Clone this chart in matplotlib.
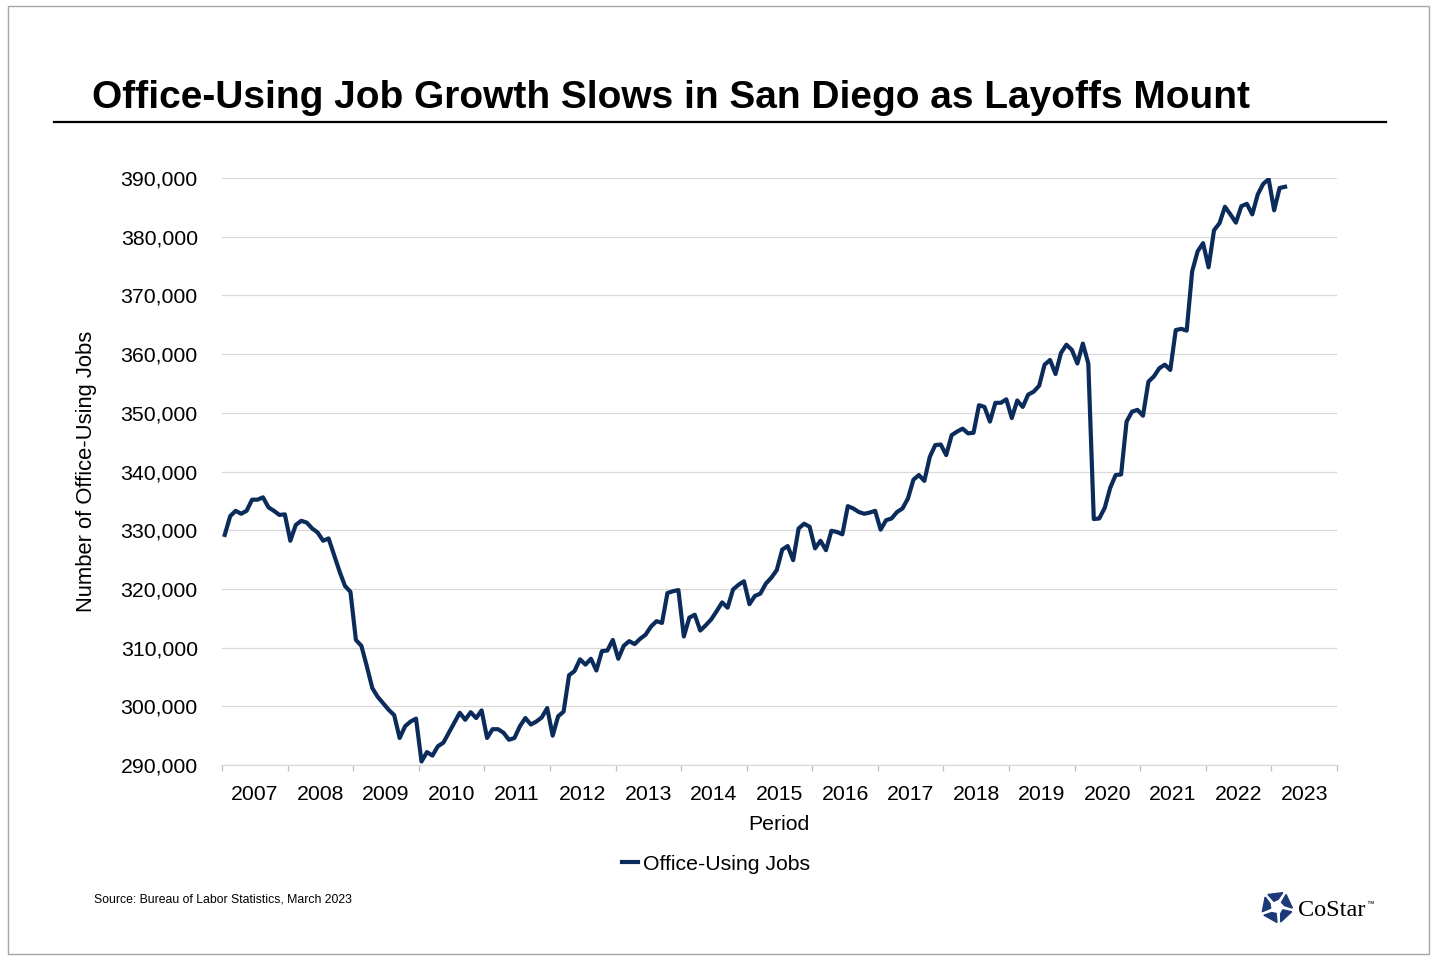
import numpy as np
import matplotlib
matplotlib.use('Agg')
import matplotlib.pyplot as plt
from matplotlib.patches import Rectangle, Polygon
from matplotlib.lines import Line2D
from matplotlib.ticker import FuncFormatter, FixedLocator

plt.rcParams['font.family'] = ['Liberation Sans', 'DejaVu Sans']

# monthly office-using jobs, San Diego (Jan 2007 - Feb 2023)
jobs_2007 = [329200, 332400, 333300, 332800, 333300, 335200, 335200, 335600, 333900, 333300, 332600, 332700]
jobs_2008 = [328200, 330900, 331600, 331300, 330300, 329600, 328200, 328600, 325800, 323000, 320500, 319500]
jobs_2009 = [311300, 310300, 306800, 303100, 301600, 300500, 299400, 298500, 294600, 296600, 297400, 297900]
jobs_2010 = [290600, 292200, 291600, 293200, 293800, 295500, 297200, 298900, 297700, 299000, 298000, 299300]
jobs_2011 = [294600, 296100, 296100, 295500, 294300, 294600, 296600, 298000, 296900, 297400, 298100, 299700]
jobs_2012 = [295000, 298300, 299100, 305300, 306000, 308000, 307100, 308100, 306100, 309400, 309500, 311300]
jobs_2013 = [308100, 310300, 311100, 310600, 311500, 312200, 313600, 314500, 314200, 319300, 319600, 319800]
jobs_2014 = [311900, 315100, 315600, 312900, 313800, 314800, 316200, 317700, 316800, 319900, 320700, 321300]
jobs_2015 = [317400, 318800, 319200, 320900, 321900, 323200, 326700, 327300, 324900, 330300, 331100, 330600]
jobs_2016 = [326900, 328200, 326600, 329900, 329700, 329300, 334100, 333700, 333100, 332800, 333000, 333300]
jobs_2017 = [330100, 331700, 332000, 333100, 333700, 335400, 338600, 339400, 338400, 342500, 344500, 344600]
jobs_2018 = [342800, 346200, 346800, 347300, 346500, 346600, 351300, 351000, 348500, 351700, 351700, 352300]
jobs_2019 = [349100, 352100, 351000, 353100, 353600, 354600, 358200, 359000, 356600, 360200, 361600, 360700]
jobs_2020 = [358400, 361800, 358400, 331900, 332000, 333800, 337200, 339400, 339500, 348500, 350200, 350500]
jobs_2021 = [349500, 355300, 356200, 357600, 358200, 357300, 364100, 364300, 364000, 374100, 377500, 378900]
jobs_2022 = [374800, 381100, 382300, 385100, 383800, 382400, 385200, 385600, 383800, 387200, 389000, 389800]
jobs_2023 = [384500, 388300, 388500]

years = [str(y) for y in range(2007, 2024)]
yticks = list(range(290000, 390001, 10000))

jobs = (jobs_2007 + jobs_2008 + jobs_2009 + jobs_2010 + jobs_2011 + jobs_2012 +
        jobs_2013 + jobs_2014 + jobs_2015 + jobs_2016 + jobs_2017 + jobs_2018 +
        jobs_2019 + jobs_2020 + jobs_2021 + jobs_2022 + jobs_2023)
x = np.arange(len(jobs)) + 0.5

W, H = 1440, 960
fig = plt.figure(figsize=(W / 100, H / 100), dpi=100)

# marco gris
fig.patches.append(Rectangle((8 / W, 1 - 954 / H), 1421 / W, 948 / H, transform=fig.transFigure,
                             fill=False, edgecolor='#a6a6a6', lw=1))

fig.text(92 / W, 1 - 108 / H, 'Office-Using Job Growth Slows in San Diego as Layoffs Mount',
         fontsize=28, fontweight='bold', va='baseline', ha='left')
fig.add_artist(Line2D([54 / W, 1386 / W], [1 - 122 / H, 1 - 122 / H], transform=fig.transFigure,
                      color='black', lw=1.6))

ax = fig.add_axes([222 / W, 1 - 765 / H, (1337 - 222) / W, (765 - 178) / H])
line_color = '#0b2b5a'
ax.plot(x, jobs, color=line_color, lw=3.0, solid_joinstyle='round', label='Office-Using Jobs')

ax.set_xlim(0, 12 * len(years))
ax.set_ylim(290000, 390000)
ax.set_yticks(yticks)
ax.yaxis.set_major_formatter(FuncFormatter(lambda v, p: f'{v:,.0f}'))
ax.grid(axis='y', color='#d9d9d9', lw=0.9)
ax.set_axisbelow(True)

ax.set_xticks([12 * i + 6 for i in range(len(years))])
ax.set_xticklabels(years)
ax.xaxis.set_minor_locator(FixedLocator([12 * i for i in range(len(years) + 1)]))
ax.tick_params(axis='x', which='major', length=0, pad=14.5, labelsize=15.3)
ax.tick_params(axis='x', which='minor', length=4, color='#bfbfbf', width=0.9)
ax.tick_params(axis='y', length=0, pad=17.5, labelsize=15.3)

for s in ['top', 'right', 'left']:
    ax.spines[s].set_visible(False)
ax.spines['bottom'].set_color('#d9d9d9')
ax.spines['bottom'].set_linewidth(0.9)

fig.text(779 / W, 1 - 824 / H, 'Period', fontsize=15.3, ha='center', va='center')
fig.text(87 / W, 1 - 471 / H, 'Number of Office-Using Jobs', fontsize=15.8, ha='center', va='center',
         rotation=90)

fig.legend(loc='center', bbox_to_anchor=(716 / W, 1 - 864 / H), frameon=False, fontsize=15.3,
           handlelength=0.75, handletextpad=0.25, borderpad=0)

fig.text(94 / W, 1 - 899 / H, 'Source: Bureau of Labor Statistics, March 2023', fontsize=8.8,
         ha='left', va='center')

# logo CoStar
lax = fig.add_axes([1260 / W, 1 - 924 / H, 34 / W, 34 / H])
lax.set_xlim(-1.1, 1.1)
lax.set_ylim(-1.1, 1.1)
lax.set_aspect('equal')
lax.axis('off')


def P(r, a):
    a = np.deg2rad(a)
    return (r * np.cos(a), r * np.sin(a))


for k in range(5):
    t = 90 + 72 * k
    pts = [P(1.0, t - 22), P(1.0, t + 36), P(0.42, t + 28), P(0.5, t - 8)]
    lax.add_patch(Polygon(pts, closed=True, color='#1c3a78'))

fig.text(1298 / W, 1 - 916 / H, 'CoStar', fontsize=17.5, family='Liberation Serif',
         ha='left', va='baseline')
fig.text(1366 / W, 1 - 906 / H, '™', fontsize=5.5, ha='left', va='baseline')

fig.savefig('out.png', dpi=100)
